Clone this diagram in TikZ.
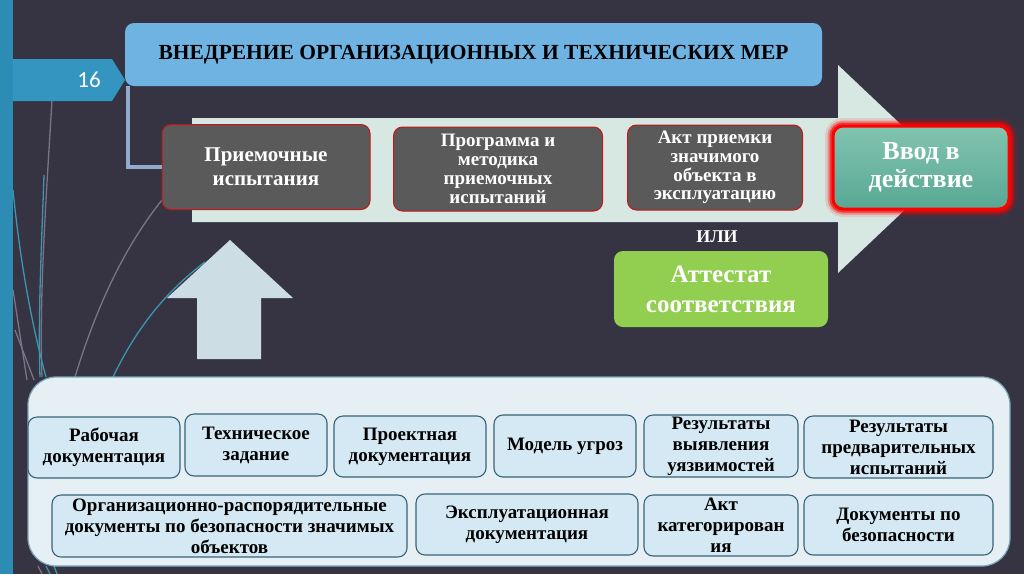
\documentclass[tikz,border=0pt]{standalone}
\usepackage{fontspec}
\setmainfont{Liberation Serif}
\newfontfamily\numfont{Carlito}
\usetikzlibrary{shapes.geometric}
\definecolor{bg}{RGB}{54,51,66}
\definecolor{barblue}{RGB}{45,140,180}
\definecolor{tabblue}{RGB}{52,150,192}
\definecolor{titleblue}{RGB}{111,179,226}
\definecolor{bracketc}{RGB}{145,172,205}
\definecolor{bigarrow}{RGB}{215,232,226}
\definecolor{boxgray}{RGB}{90,90,90}
\definecolor{boxred}{RGB}{200,20,20}
\definecolor{glowred}{RGB}{255,0,0}
\definecolor{tealtop}{RGB}{130,196,176}
\definecolor{tealbot}{RGB}{88,168,148}
\definecolor{greenbox}{RGB}{146,206,80}
\definecolor{uparrow}{RGB}{204,222,228}
\definecolor{contfill}{RGB}{230,239,243}
\definecolor{contdraw}{RGB}{120,165,185}
\definecolor{docfill}{RGB}{212,233,243}
\definecolor{docdraw}{RGB}{55,100,120}
\definecolor{decogray}{RGB}{120,116,138}
\definecolor{decoteal}{RGB}{60,150,175}
\begin{document}
\begin{tikzpicture}[x=1pt,y=-1pt,
  grayboxst/.style={draw=boxred, line width=1pt, fill=boxgray, rounded corners=9pt,
    text=white, align=center, inner sep=0pt},
  docbox/.style={draw=docdraw, line width=1.1pt, fill=docfill, rounded corners=9pt,
    text=black, align=center, inner sep=0pt,
    font=\bfseries\fontsize{19}{21}\selectfont},
  deco/.style={line width=1.3pt},
  bracketst/.style={draw=bracketc, line width=4pt}
]
\useasboundingbox (0,0) rectangle (1024,574);
\fill[bg] (0,0) rectangle (1024,574);
% decorative lines
\draw[deco, decogray] (52,100) .. controls (46,200) and (39,300) .. (42,377);
\draw[deco, decoteal] (44,175) .. controls (41,260) and (38,320) .. (40,377);
\draw[deco, decoteal] (13,190) .. controls (22,280) and (36,340) .. (46,377);
\draw[deco, decogray] (13,290) -- (27,380);
\draw[deco, decogray] (15,330) -- (34,380);
\draw[deco, decogray] (75,377) .. controls (100,295) and (130,240) .. (162,200);
\draw[deco, decoteal] (113,377) .. controls (138,325) and (168,290) .. (205,262);
\draw[deco, decogray] (38,566) -- (42,574);
\draw[deco, decoteal] (46,566) -- (50,574);
\draw[deco, decoteal] (54,566) -- (57,574);
% left bar and tab
\fill[barblue] (0,0) rectangle (13,574);
\fill[tabblue] (13,59) -- (112,59) -- (125,80) -- (112,101) -- (13,101) -- cycle;
\node[text=white, font=\numfont\fontsize{23}{25}\selectfont] (num) at (89,80) {16};
% title
\node[fill=titleblue, rounded corners=9pt, minimum width=697, minimum height=63,
  inner sep=0pt, font=\bfseries\fontsize{21.5}{24}\selectfont] (title) at (473.5,54.5)
  {ВНЕДРЕНИЕ ОРГАНИЗАЦИОННЫХ И ТЕХНИЧЕСКИХ МЕР};
% big arrow
\fill[bigarrow] (192,118) -- (838,118) -- (838,65) -- (948,169) -- (838,273)
  -- (838,222) -- (192,222) -- cycle;
% gray boxes
\node[grayboxst, minimum width=208, minimum height=85,
  font=\bfseries\fontsize{21}{24}\selectfont] (g1) at (266,167) {Приемочные\\испытания};
\node[grayboxst, minimum width=209, minimum height=84,
  font=\bfseries\fontsize{19}{18.8}\selectfont] (g2) at (498,169) {Программа и\\методика\\приемочных\\испытаний};
\node[grayboxst, minimum width=175, minimum height=85,
  font=\bfseries\fontsize{19}{18.8}\selectfont] (g3) at (715,167.5) {Акт приемки\\значимого\\объекта в\\эксплуатацию};
% bracket connector
\draw[bracketst] ([xshift=3pt]title.south west) |- (g1.west);
% Ввод в действие with glow
\draw[glowred, line width=16pt, opacity=0.12, rounded corners=10pt] (833,126) rectangle (1009,209);
\draw[glowred, line width=11pt, opacity=0.3, rounded corners=10pt] (833,126) rectangle (1009,209);
\draw[glowred, line width=7pt, opacity=0.6, rounded corners=10pt] (833,126) rectangle (1009,209);
\node[draw=glowred, line width=3pt, top color=tealtop, bottom color=tealbot,
  rounded corners=10pt, minimum width=176, minimum height=83, inner sep=0pt,
  text=white, align=center, font=\bfseries\fontsize{26}{28}\selectfont] (vvod) at (921,167.5)
  {Ввод в\\действие};
% или
\node[text=white, font=\bfseries\fontsize{18}{20}\selectfont] (ili) at (717,237) {ИЛИ};
% green box
\node[fill=greenbox, rounded corners=9pt, minimum width=214, minimum height=76,
  inner sep=0pt, text=white, align=center, font=\bfseries\fontsize{25}{30}\selectfont]
  (att) at (721,289) {Аттестат\\соответствия};
% up arrow
\fill[uparrow] (197,359) -- (197,298) -- (167,298) -- (230,240) -- (293,298)
  -- (261,298) -- (261,359) -- cycle;
% container
\node[draw=contdraw, line width=1.2pt, fill=contfill, rounded corners=28pt,
  minimum width=982, minimum height=189, inner sep=0pt] (cont) at (519,471.5) {};
% row 1
\node[docbox, minimum width=152, minimum height=61] (b1) at (104,447.5) {Рабочая\\документация};
\node[docbox, minimum width=142, minimum height=62] (b2) at (256,445) {Техническое\\задание};
\node[docbox, minimum width=152, minimum height=61] (b3) at (410,446.5) {Проектная\\документация};
\node[docbox, minimum width=142, minimum height=62] (b4) at (565,446) {Модель угроз};
\node[docbox, minimum width=154, minimum height=62] (b5) at (721,446) {Результаты\\выявления\\уязвимостей};
\node[docbox, minimum width=189, minimum height=62] (b6) at (898.5,447) {Результаты\\предварительных\\испытаний};
% row 2
\node[docbox, minimum width=355, minimum height=62] (c1) at (229.5,526) {Организационно-распорядительные\\документы по безопасности значимых\\объектов};
\node[docbox, minimum width=222, minimum height=61] (c2) at (527,524.5) {Эксплуатационная\\документация};
\node[docbox, minimum width=154, minimum height=61] (c3) at (721,525.5) {Акт\\категорирован\\ия};
\node[docbox, minimum width=189, minimum height=60] (c4) at (898.5,525) {Документы по\\безопасности};
\end{tikzpicture}
\end{document}
